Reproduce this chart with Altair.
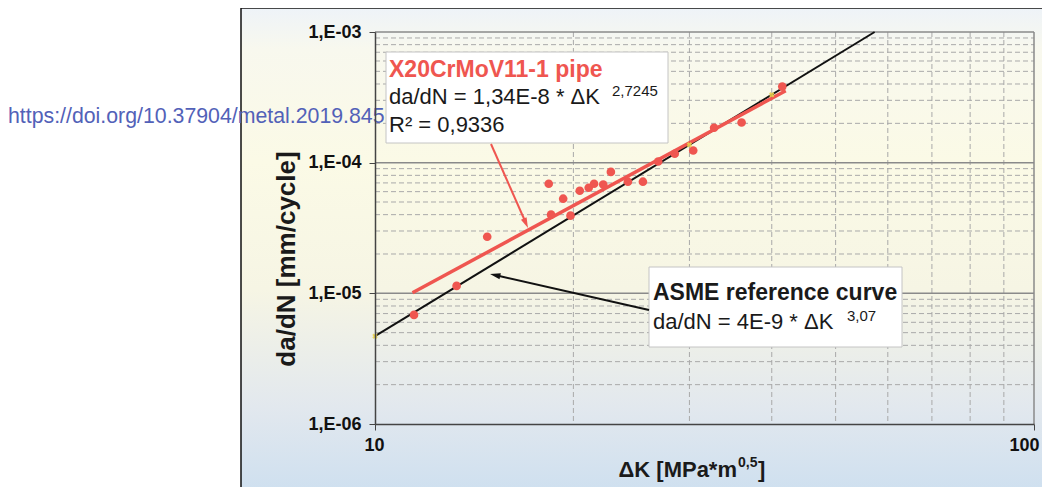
import altair as alt
import pandas as pd

# ---- data ----
dk_points = [11.46, 13.3, 14.8, 18.35, 18.5, 19.3, 19.8, 20.45, 21.1, 21.5,
             22.2, 22.8, 24.2, 25.5, 26.9, 28.5, 30.4, 32.7, 36.0, 41.5]
dadn_points = [6.84e-6, 1.14e-5, 2.71e-5, 6.9e-5, 4.0e-5, 5.3e-5, 3.93e-5, 6.1e-5, 6.43e-5, 6.9e-5,
               6.8e-5, 8.5e-5, 7.15e-5, 7.15e-5, 1.02e-4, 1.17e-4, 1.24e-4, 1.85e-4, 2.03e-4, 3.82e-4]

fit_dk = [11.4, 42.0]
fit_dadn = [1.01e-5, 3.55e-4]

asme_dk = [10.0, 57.3]
asme_dadn = [4.7e-6, 1.0e-3]

asme_marker_dk = [10.0, 30.0, 40.0]
asme_marker_dadn = [4.7e-6, 1.37e-4, 3.31e-4]

x_ticks = [10, 100]
y_ticks = [1e-6, 1e-5, 1e-4, 1e-3]
x_minor = [20, 30, 40, 50, 60, 70, 80, 90]
y_major = [1e-5, 1e-4, 1e-3]
y_minor = [m * 10.0 ** k for k in (-6, -5, -4) for m in range(2, 10)]
x_major = [100]

FONT = "Liberation Sans, Arial, Helvetica, sans-serif"
RED = "#EF5650"

W, H = 659, 392
OX, OY = 375, 32  # page position of plot origin

pts = pd.DataFrame({"dk": dk_points, "dadn": dadn_points})
fit = pd.DataFrame({"dk": fit_dk, "dadn": fit_dadn})
asme = pd.DataFrame({"dk": asme_dk, "dadn": asme_dadn})
asme_m = pd.DataFrame({"dk": asme_marker_dk, "dadn": asme_marker_dadn})
one = pd.DataFrame({"a": [0]})

xs = alt.Scale(type="log", domain=[10, 100], nice=False)
ys = alt.Scale(type="log", domain=[1e-6, 1e-3], nice=False)

X = alt.X("dk:Q", scale=xs, axis=alt.Axis(
    values=x_ticks, title=None, grid=False, labelExpr="datum.value",
    labelFont=FONT, labelFontSize=18, labelFontWeight="bold", labelColor="#111",
    tickSize=6, tickColor="#444", domainColor="#444", domainWidth=1.5,
    labelPadding=6, labelFlush=False, zindex=2,
    labelOffset={"condition": {"test": "datum.value == 100", "value": -10}, "value": -1}))
Y = alt.Y("dadn:Q", scale=ys, axis=alt.Axis(
    values=y_ticks, title=None, grid=False,
    labelExpr="'1,E-0' + round(-log(datum.value)/LN10)",
    labelFont=FONT, labelFontSize=18, labelFontWeight="bold", labelColor="#111",
    tickSize=6, tickColor="#444", domainColor="#444", domainWidth=1.5,
    labelPadding=8, zindex=2))


def px(x):
    return alt.value(x - OX)


def py(y):
    return alt.value(y - OY)


def txt(s, x, y, size, color="#1a1a1a", bold=False, align="left", angle=0):
    kw = dict(text=s, align=align, baseline="middle", fontSize=size, font=FONT,
              fontWeight="bold" if bold else "normal", color=color)
    if angle:
        kw["angle"] = angle
    return alt.Chart(one).mark_text(**kw).encode(x=px(x), y=py(y))


def box(x0, y0, x1, y1):
    return alt.Chart(one).mark_rect(fill="white", stroke="#C4C4C4", strokeWidth=1).encode(
        x=px(x0), x2=px(x1), y=py(y0), y2=py(y1))


gradient = alt.Gradient(
    gradient="linear", x1=0, y1=0, x2=0, y2=1,
    stops=[alt.GradientStop(offset=0, color="#EEF3F8"),
           alt.GradientStop(offset=0.08, color="#F8F8EE"),
           alt.GradientStop(offset=0.3, color="#FBFAE6"),
           alt.GradientStop(offset=0.55, color="#F6F5E4"),
           alt.GradientStop(offset=0.78, color="#E2E8EE"),
           alt.GradientStop(offset=1, color="#C8DDF0")])

frame = alt.Chart(one).mark_rect(fill=gradient, stroke="#111", strokeWidth=1.5, clip=False).encode(
    x=px(241), x2=px(1070), y=py(8), y2=py(520))

grid_xminor = alt.Chart(pd.DataFrame({"dk": x_minor})).mark_rule(
    color="#A9A9A9", strokeWidth=1, strokeDash=[5, 3]).encode(x=X, y=alt.value(0), y2=alt.value(H))
grid_yminor = alt.Chart(pd.DataFrame({"dadn": y_minor})).mark_rule(
    color="#A9A9A9", strokeWidth=1, strokeDash=[5, 3]).encode(y=Y, x=alt.value(0), x2=alt.value(W))
grid_ymajor = alt.Chart(pd.DataFrame({"dadn": y_major})).mark_rule(
    color="#8A8A8A", strokeWidth=1.5).encode(y=Y, x=alt.value(0), x2=alt.value(W))
grid_xmajor = alt.Chart(pd.DataFrame({"dk": x_major})).mark_rule(
    color="#8A8A8A", strokeWidth=1.5).encode(x=X, y=alt.value(0), y2=alt.value(H))

asme_line = alt.Chart(asme).mark_line(color="#111", strokeWidth=2).encode(x=X, y=Y)
asme_marks = alt.Chart(asme_m).mark_point(shape="cross", angle=45, filled=True, color="#EAD24A",
                                          size=30, opacity=0.9).encode(x=X, y=Y)
fit_line = alt.Chart(fit).mark_line(color=RED, strokeWidth=3.5).encode(x=X, y=Y)
points = alt.Chart(pts).mark_circle(color=RED, size=75, opacity=1).encode(x=X, y=Y)

box1 = box(386, 52, 668, 143)
box2 = box(649, 267, 902, 347)

ARROW = "M0,-1L0.5,0.7L-0.5,0.7Z"
red_shaft = alt.Chart(one).mark_rule(color=RED, strokeWidth=2).encode(
    x=px(491), y=py(144), x2=px(525), y2=py(221))
red_head = alt.Chart(one).mark_point(shape=ARROW, filled=True, color=RED, size=150, angle=156, opacity=1).encode(
    x=px(525.5), y=py(222.5))
blk_shaft = alt.Chart(one).mark_rule(color="#111", strokeWidth=2).encode(
    x=px(649), y=py(310), x2=px(497), y2=py(275.5))
blk_head = alt.Chart(one).mark_point(shape=ARROW, filled=True, color="#111", size=150, angle=283, opacity=1).encode(
    x=px(496), y=py(275.3))

texts = [
    txt("X20CrMoV11-1 pipe", 389, 70, 23, color=RED, bold=True),
    txt("da/dN = 1,34E-8 * \u0394K", 389, 97, 22),
    txt("2,7245", 612, 91, 15),
    txt("R\u00b2 = 0,9336", 389, 125, 22),
    txt("ASME reference curve", 653, 293, 23, bold=True),
    txt("da/dN = 4E-9 * \u0394K", 653, 322, 22),
    txt("3,07", 847, 316, 15),
    txt("\u0394K [MPa*m", 737, 470, 22, bold=True, align="right"),
    txt("0,5", 738, 463, 14, bold=True),
    txt("]", 758, 470, 22, bold=True),
    txt("da/dN [mm/cycle]", 287, 259, 26, bold=True, align="center", angle=270),
    txt("https://doi.org/10.37904/metal.2019.845", 8, 117, 21.3, color="#5261B8"),
]

chart = alt.layer(
    frame, grid_xminor, grid_yminor, grid_ymajor, grid_xmajor,
    asme_line, fit_line, points, asme_marks,
    box1, box2, red_shaft, red_head, blk_shaft, blk_head,
    *texts
).properties(
    width=W, height=H,
    padding={"left": OX - 8, "top": OY - 8, "right": 1050 - 8 - OX - W, "bottom": 495 - 8 - OY - H},
    autosize=alt.AutoSizeParams(type="none"),
    background="white",
).configure_view(stroke=None)

chart.save("out.html", embed_options={"renderer": "svg", "actions": False})
